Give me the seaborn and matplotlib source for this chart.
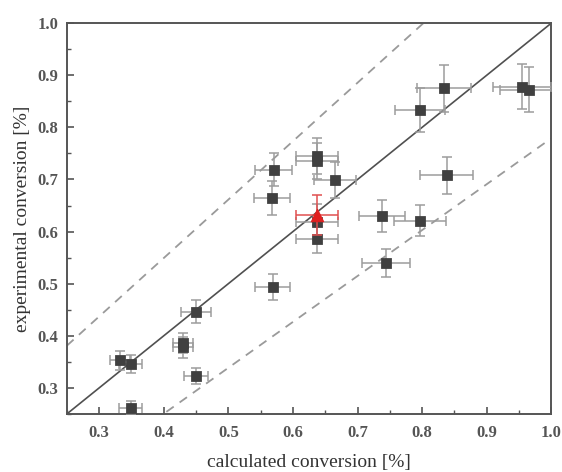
import matplotlib
matplotlib.use("Agg")
import matplotlib.pyplot as plt
from matplotlib.ticker import MultipleLocator
import numpy as np
import pandas as pd
import seaborn as sns

# measured points (calculated vs experimental conversion)
calc = [0.332, 0.349, 0.349, 0.430, 0.430, 0.450, 0.450, 0.569, 0.570, 0.568,
        0.637, 0.637, 0.665, 0.637, 0.637, 0.738, 0.797, 0.744, 0.838, 0.797,
        0.834, 0.955, 0.965]
expt = [0.353, 0.346, 0.262, 0.386, 0.378, 0.446, 0.323, 0.494, 0.719, 0.664,
        0.745, 0.735, 0.699, 0.618, 0.585, 0.630, 0.621, 0.540, 0.708, 0.833,
        0.875, 0.878, 0.872]
calc_err = [0.016, 0.018, 0.018, 0.015, 0.015, 0.023, 0.018, 0.027, 0.028, 0.028,
            0.032, 0.032, 0.032, 0.032, 0.032, 0.035, 0.040, 0.037, 0.041, 0.039,
            0.042, 0.045, 0.045]
expt_err = [0.018, 0.018, 0.012, 0.020, 0.020, 0.022, 0.016, 0.025, 0.032, 0.033,
            0.035, 0.035, 0.035, 0.035, 0.027, 0.030, 0.030, 0.027, 0.035, 0.042,
            0.045, 0.043, 0.043]

# highlighted point
red_calc = [0.637]
red_expt = [0.632]
red_calc_err = [0.032]
red_expt_err = [0.039]

# parity line and deviation bounds
parity = [0.25, 1.0]
upper_x = [0.25, 0.802]
upper_y = [0.381, 1.0]
lower_x = [0.404, 1.0]
lower_y = [0.254, 0.779]

ticks = [0.3, 0.4, 0.5, 0.6, 0.7, 0.8, 0.9, 1.0]


def main():
    sns.set_style("ticks")
    plt.rcParams['font.family'] = ['Liberation Serif', 'DejaVu Serif']

    df = pd.DataFrame({"calc": calc, "expt": expt})
    red = pd.DataFrame({"calc": red_calc, "expt": red_expt})

    fig, ax = plt.subplots(figsize=(5.62, 4.72), dpi=100)
    fig.subplots_adjust(left=0.119, right=0.981, top=0.951, bottom=0.123)

    sns.lineplot(x=parity, y=parity, ax=ax, color="#505050", lw=1.2)
    sns.lineplot(x=upper_x, y=upper_y, ax=ax, color="#9a9a9a", lw=1.3, linestyle=(0, (5, 4)))
    sns.lineplot(x=lower_x, y=lower_y, ax=ax, color="#9a9a9a", lw=1.3, linestyle=(0, (5, 4)))

    ax.errorbar(calc, expt, xerr=calc_err, yerr=expt_err, fmt="none",
                ecolor="#9c9c9c", elinewidth=1.1, capsize=3.5, capthick=1.1, zorder=3)
    sns.scatterplot(data=df, x="calc", y="expt", ax=ax, marker="s", s=50,
                    color="#404040", edgecolor="#404040", zorder=4)

    ax.errorbar(red_calc, red_expt, xerr=red_calc_err, yerr=red_expt_err, fmt="none",
                ecolor="#e05050", elinewidth=1.1, capsize=3.5, capthick=1.1, zorder=5)
    sns.scatterplot(data=red, x="calc", y="expt", ax=ax, marker="^", s=80,
                    color="#e02020", edgecolor="#e02020", zorder=6)

    ax.set_xlim(0.25, 1.0)
    ax.set_ylim(0.25, 1.0)
    ax.set_xticks(ticks)
    ax.set_yticks(ticks)
    ax.xaxis.set_minor_locator(MultipleLocator(0.05))
    ax.yaxis.set_minor_locator(MultipleLocator(0.05))
    ax.tick_params(which="major", direction="in", length=5, width=1.2, colors="#555555",
                   labelsize=12, labelcolor="#555555", pad=6)
    ax.tick_params(axis="x", which="major", pad=8)
    ax.tick_params(which="minor", direction="in", length=3, width=1.0, colors="#555555")
    for lab in ax.get_xticklabels() + ax.get_yticklabels():
        lab.set_fontweight("bold")
    for s in ax.spines.values():
        s.set_visible(True)
        s.set_color("#555555")
        s.set_linewidth(1.4)

    ax.set_xlabel("calculated conversion [%]", fontsize=14, color="#333333", labelpad=9)
    ax.set_ylabel("experimental conversion [%]", fontsize=14, color="#333333", labelpad=5)

    fig.savefig("out.png", dpi=100)


if __name__ == "__main__":
    main()
